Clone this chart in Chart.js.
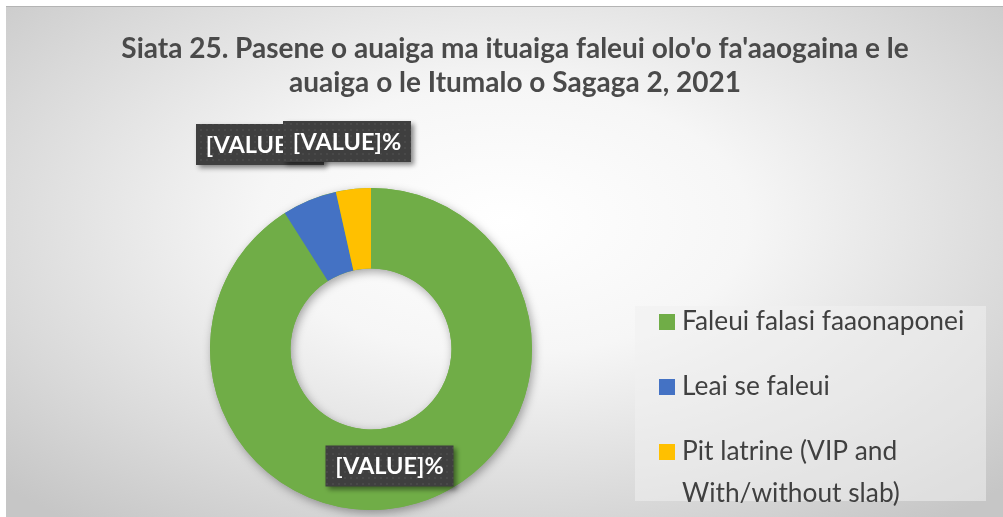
<!DOCTYPE html>
<html>
<head>
<meta charset="utf-8">
<script src="https://cdn.jsdelivr.net/npm/chart.js@4.4.1/dist/chart.umd.min.js"></script>
<style>
  html, body { margin: 0; padding: 0; background: #ffffff; }
  #frame {
    position: absolute; left: 6px; top: 6px; width: 997px; height: 511px;
    border-top: 1px solid #b4b4b4; box-sizing: border-box;
    background: radial-gradient(ellipse 70% 75% at 50% 42%, #ffffff 0%, #f6f6f6 35%, #d9d9d9 75%, #c6c6c6 100%);
  }
  #grafico { display: block; }
</style>
</head>
<body>
<div id="frame"><canvas id="grafico" width="997" height="510"></canvas></div>
<script>
// dados do gráfico
const titulo = ["Siata 25. Pasene o auaiga ma ituaiga faleui olo'o fa'aaogaina e le", "auaiga o le Itumalo o Sagaga 2, 2021"];
const categorias = ["Faleui falasi faaonaponei", "Leai se faleui", "Pit latrine (VIP and With/without slab)"];
const legendaLinhas = [["Faleui falasi faaonaponei"], ["Leai se faleui"], ["Pit latrine (VIP and", "With/without slab)"]];
const valores = [91.0, 5.5, 3.5];
const rotulos = ["[VALUE]%", "[VALUE]%", "[VALUE]%"];
const cores = ["#70AD47", "#4472C4", "#FFC000"];

const ctx = document.getElementById('grafico');

// padrão pontilhado das caixas de rótulo
const padrao = document.createElement('canvas');
padrao.width = 6; padrao.height = 6;
const pc = padrao.getContext('2d');
pc.fillStyle = '#3f3f3f';
pc.fillRect(0, 0, 6, 6);
pc.fillStyle = '#494949';
pc.fillRect(2, 2, 2, 2);

// sombra do anel
const sombraAnel = {
  id: 'sombraAnel',
  beforeDatasetsDraw(chart) {
    const arc = chart.getDatasetMeta(0).data[0];
    if (!arc) return;
    const c = chart.ctx;
    c.save();
    c.shadowColor = 'rgba(0,0,0,0.35)';
    c.shadowBlur = 10;
    c.shadowOffsetX = 2;
    c.shadowOffsetY = 3;
    c.fillStyle = cores[0];
    c.beginPath();
    c.arc(arc.x, arc.y, arc.outerRadius, 0, Math.PI * 2);
    c.arc(arc.x, arc.y, arc.innerRadius, 0, Math.PI * 2, true);
    c.fill();
    c.restore();
  }
};

// titulo, rotulos e legenda desenhados sobre o grafico
const extras = {
  id: 'extras',
  afterDraw(chart) {
    const c = chart.ctx;
    const meta = chart.getDatasetMeta(0);
    const cx = meta.data[0].x, cy = meta.data[0].y;

    // titulo
    c.save();
    c.fillStyle = '#4a4a4a';
    c.font = 'bold 28px Lato';
    c.textAlign = 'center';
    c.textBaseline = 'middle';
    c.fillText(titulo[0], 509, 42);
    c.fillText(titulo[1], 509, 76);
    c.restore();

    // rotulos de dados (posição relativa ao centro do anel)
    const deslocamentos = [[18.5, 117], [-111, -204.5], [-24, -207.5]];
    [1, 2, 0].forEach(i => {
      const bx = cx + deslocamentos[i][0] - 64;
      const by = cy + deslocamentos[i][1] - 20.5;
      c.save();
      c.shadowColor = 'rgba(0,0,0,0.45)';
      c.shadowBlur = 5;
      c.shadowOffsetX = 3;
      c.shadowOffsetY = 3;
      c.fillStyle = c.createPattern(padrao, 'repeat');
      c.fillRect(bx, by, 128, 41);
      c.restore();
      c.save();
      c.fillStyle = '#ffffff';
      c.font = 'bold 23.5px Lato';
      c.textAlign = 'center';
      c.textBaseline = 'middle';
      c.fillText(rotulos[i], bx + 64, by + 21);
      c.restore();
    });

    // legenda
    c.save();
    c.fillStyle = 'rgba(240,240,240,0.55)';
    c.fillRect(629, 299, 351, 195);
    c.font = '26.3px Lato';
    c.textBaseline = 'middle';
    const linhasY = [315, 380, 445];
    categorias.forEach((cat, i) => {
      c.fillStyle = cores[i];
      c.fillRect(653, linhasY[i] - 8, 16, 16);
      c.fillStyle = '#404040';
      legendaLinhas[i].forEach((t, k) => c.fillText(t, 676, linhasY[i] + k * 42));
    });
    c.restore();
  }
};

new Chart(ctx, {
  type: 'doughnut',
  data: {
    labels: categorias,
    datasets: [{
      data: valores,
      backgroundColor: cores,
      borderWidth: 0,
      hoverOffset: 0
    }]
  },
  options: {
    responsive: false,
    animation: false,
    cutout: '50%',
    layout: { padding: { left: 204, right: 471, top: 181, bottom: 7 } },
    plugins: {
      legend: { display: false },
      title: { display: false },
      tooltip: { enabled: false }
    }
  },
  plugins: [sombraAnel, extras]
});
</script>
</body>
</html>
